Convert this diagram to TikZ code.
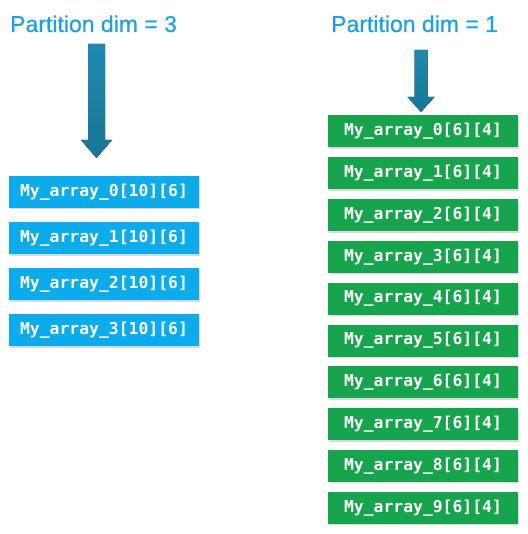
\documentclass[tikz,border=0pt]{standalone}
\usepackage{fontspec}
\setmainfont{Liberation Sans}
\newfontfamily\titlefont{Liberation Sans}[FakeBold=0.6]
\newfontfamily\boxmono{DejaVu Sans Mono}
\usetikzlibrary{shadows,calc}
\definecolor{titleblue}{RGB}{30,160,226}
\definecolor{cyanbox}{RGB}{12,172,236}
\definecolor{greenbox}{RGB}{22,164,76}
\definecolor{arrowtop}{RGB}{32,136,174}
\definecolor{arrowbot}{RGB}{24,118,150}
\tikzset{
  titletext/.style={text=titleblue, font=\titlefont\fontsize{23}{26}\selectfont, inner sep=0pt, anchor=base west},
  arrbox/.style={minimum width=190pt, minimum height=32pt, inner sep=0pt, text=white,
    font=\boxmono\bfseries\fontsize{16.4}{19}\selectfont,
    drop shadow={opacity=0.3, shadow xshift=1pt, shadow yshift=-1.5pt, fill=gray}},
  cyanarr/.style={arrbox, fill=cyanbox},
  greenarr/.style={arrbox, fill=greenbox},
  blockarrow/.style={top color=arrowtop, bottom color=arrowbot, draw=none}
}
\begin{document}
\begin{tikzpicture}[x=1pt,y=-1pt]
\useasboundingbox (0,0) rectangle (527,534);
\node[titletext] (t3) at (10,32) {Partition dim = 3};
\node[titletext] (t1) at (331,32) {Partition dim = 1};
% left block arrow
\coordinate (la) at (96.5,44);
\fill[blockarrow] ($(la)+(-8.5,0)$) -- ($(la)+(8.5,0)$) -- ($(la)+(8.5,96)$) -- ($(la)+(15.5,96)$)
  -- ($(la)+(0,114)$) -- ($(la)+(-15.5,96)$) -- ($(la)+(-8.5,96)$) -- cycle;
% right block arrow
\coordinate (ra) at (421,50);
\fill[blockarrow] ($(ra)+(-6.5,0)$) -- ($(ra)+(6.5,0)$) -- ($(ra)+(6.5,47)$) -- ($(ra)+(13.5,47)$)
  -- ($(ra)+(0,62)$) -- ($(ra)+(-13.5,47)$) -- ($(ra)+(-6.5,47)$) -- cycle;
\foreach \i in {0,1,2,3} {
  \node[cyanarr] (l\i) at (104,{192+46*\i}) {My\_array\_\i[10][6]};
}
\foreach \i in {0,...,9} {
  \node[greenarr] (r\i) at (423,{131.5+41.8*\i}) {My\_array\_\i[6][4]};
}
\end{tikzpicture}
\end{document}
